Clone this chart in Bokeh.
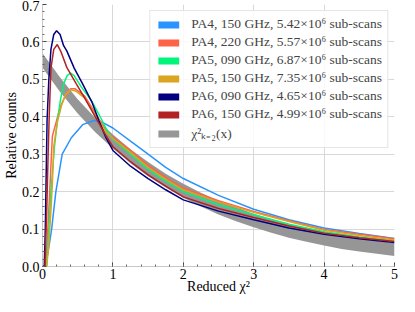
from bokeh.plotting import figure
from bokeh.models import Range1d, FixedTicker, Legend, LegendItem, NumeralTickFormatter
from bokeh.embed import file_html
from bokeh.resources import INLINE

# ---------------- data ----------------
x_ticks = [0, 1, 2, 3, 4, 5]
y_ticks = [0.0, 0.1, 0.2, 0.3, 0.4, 0.5, 0.6, 0.7]

labels = [
    "PA4, 150 GHz, 5.42×10⁶ sub-scans",
    "PA4, 220 GHz, 5.57×10⁶ sub-scans",
    "PA5, 090 GHz, 6.87×10⁶ sub-scans",
    "PA5, 150 GHz, 7.35×10⁶ sub-scans",
    "PA6, 090 GHz, 4.65×10⁶ sub-scans",
    "PA6, 150 GHz, 4.99×10⁶ sub-scans",
]
band_label = "χ²ₖ₌₂(x)"

tail_x = [1.25, 1.5, 1.75, 2.0, 2.5, 3.0, 3.5, 4.0, 4.5, 5.0]

pa4_150_x = [0, 0.04, 0.08, 0.13, 0.19, 0.28, 0.41, 0.57, 0.73, 0.85, 1.0] + tail_x
pa4_150_y = [0, 0, 0.04, 0.10, 0.20, 0.30, 0.344, 0.379, 0.39, 0.385, 0.37,
             0.335, 0.30, 0.265, 0.235, 0.19, 0.153, 0.125, 0.103, 0.088, 0.075]

pa4_220_x = [0, 0.05, 0.07, 0.10, 0.14, 0.19, 0.25, 0.32, 0.40, 0.46, 0.60, 0.75, 0.90, 1.0] + tail_x
pa4_220_y = [0, 0, 0.08, 0.19, 0.348, 0.383, 0.425, 0.455, 0.475, 0.475, 0.455, 0.41, 0.365, 0.345,
             0.31, 0.27, 0.238, 0.209, 0.176, 0.147, 0.122, 0.099, 0.086, 0.074]

pa5_090_x = [0, 0.06, 0.09, 0.12, 0.17, 0.21, 0.255, 0.30, 0.35, 0.40, 0.45, 0.55, 0.69, 0.82, 0.91, 1.0] + tail_x
pa5_090_y = [0, 0, 0.10, 0.20, 0.32, 0.387, 0.445, 0.488, 0.51, 0.517, 0.51, 0.48, 0.445, 0.40, 0.366, 0.34,
             0.30, 0.26, 0.228, 0.20, 0.165, 0.138, 0.113, 0.093, 0.079, 0.068]

pa5_150_x = [0, 0.06, 0.09, 0.12, 0.14, 0.16, 0.21, 0.27, 0.33, 0.40, 0.48, 0.60, 0.75, 0.90, 1.0] + tail_x
pa5_150_y = [0, 0, 0.06, 0.15, 0.22, 0.32, 0.385, 0.43, 0.46, 0.472, 0.468, 0.45, 0.405, 0.36, 0.342,
             0.305, 0.265, 0.233, 0.205, 0.172, 0.145, 0.12, 0.097, 0.083, 0.071]

pa6_090_x = [0, 0.025, 0.04, 0.05, 0.065, 0.09, 0.12, 0.16, 0.20, 0.25, 0.30, 0.345, 0.45, 0.57, 0.70, 0.80, 0.90, 1.0] + tail_x
pa6_090_y = [0, 0, 0.10, 0.22, 0.39, 0.50, 0.58, 0.62, 0.63, 0.62, 0.59, 0.576, 0.53, 0.488, 0.44, 0.39, 0.345, 0.31,
             0.268, 0.235, 0.205, 0.178, 0.148, 0.125, 0.103, 0.086, 0.074, 0.064]

pa6_150_x = [0, 0.035, 0.06, 0.08, 0.095, 0.12, 0.16, 0.21, 0.26, 0.345, 0.48, 0.60, 0.75, 0.90, 1.0] + tail_x
pa6_150_y = [0, 0, 0.15, 0.30, 0.40, 0.53, 0.58, 0.593, 0.575, 0.532, 0.488, 0.45, 0.40, 0.35, 0.32,
             0.28, 0.245, 0.215, 0.186, 0.155, 0.131, 0.108, 0.089, 0.077, 0.067]

band_x = [0, 0.25, 0.5, 0.75, 1.0, 1.25, 1.5, 1.75, 2.0, 2.25, 2.5, 2.75, 3.0, 3.25, 3.5, 3.75,
          4.0, 4.25, 4.5, 4.75, 5.0]
band_upper = [0.570, 0.505, 0.447, 0.397, 0.353, 0.313, 0.279, 0.248, 0.221, 0.197, 0.176,
              0.158, 0.141, 0.127, 0.114, 0.103, 0.093, 0.084, 0.076, 0.069, 0.063]
band_lower = [0.531, 0.466, 0.409, 0.359, 0.315, 0.276, 0.241, 0.211, 0.184, 0.160, 0.139,
              0.121, 0.105, 0.090, 0.077, 0.066, 0.056, 0.047, 0.040, 0.034, 0.028]

series_x = [pa4_150_x, pa4_220_x, pa5_090_x, pa5_150_x, pa6_090_x, pa6_150_x]
series_y = [pa4_150_y, pa4_220_y, pa5_090_y, pa5_150_y, pa6_090_y, pa6_150_y]
colors = ["#2A93FF", "#FF6347", "#00F57A", "#DAA520", "#000080", "#B22222"]
BAND_COLOR = "#969696"

FONT = "Liberation Serif"

# ---------------- figure ----------------
p = figure(width=399, height=296, x_range=Range1d(0, 5), y_range=Range1d(0, 0.7),
           output_backend="svg", toolbar_location=None,
           min_border_left=10, min_border_right=5, min_border_top=4, min_border_bottom=5)
p.outline_line_color = None
p.background_fill_color = "white"
p.border_fill_color = "white"

# chi^2 band
band = p.varea(x=band_x, y1=band_lower, y2=band_upper, fill_color=BAND_COLOR, fill_alpha=1.0)

# data curves (histograms)
for xs, ys, c in zip(series_x, series_y, colors):
    p.line(xs, ys, line_color=c, line_width=1.5)

# legend proxies: zero-height areas on the same data, so the legend shows filled patches
items = []
for lab, xs, ys, c in zip(labels, series_x, series_y, colors):
    r = p.varea(x=xs, y1=ys, y2=ys, fill_color=c, fill_alpha=1.0)
    items.append(LegendItem(label=lab, renderers=[r]))
items.append(LegendItem(label=band_label, renderers=[band]))

legend = Legend(items=items, location="top_right", margin=6, padding=5, spacing=2,
                label_height=14, glyph_height=9, glyph_width=26, label_standoff=10,
                label_text_font=FONT, label_text_font_size="13.5px",
                border_line_color="#cccccc", border_line_width=1,
                background_fill_color="white", background_fill_alpha=0.85)
p.add_layout(legend, "center")

# axes
for ax in (p.xaxis[0], p.yaxis[0]):
    ax.axis_line_color = "#c8c8c8"
    ax.major_tick_in = 4
    ax.major_tick_out = 0
    ax.minor_tick_in = 2
    ax.minor_tick_out = 0
    ax.major_tick_line_color = "#444444"
    ax.minor_tick_line_color = "#666666"
    ax.major_label_text_font = FONT
    ax.major_label_text_font_size = "14px"
    ax.major_label_text_color = "black"
    ax.axis_label_text_font = FONT
    ax.axis_label_text_font_size = "14px"
    ax.axis_label_text_font_style = "normal"
    ax.axis_label_text_color = "black"
    ax.major_label_standoff = 3
    ax.axis_label_standoff = 0

p.xaxis.major_label_standoff = 2
p.xaxis.axis_label_standoff = -3

p.xaxis.ticker = FixedTicker(ticks=x_ticks, minor_ticks=[i * 0.2 for i in range(26)])
p.yaxis.ticker = FixedTicker(ticks=y_ticks, minor_ticks=[i * 0.02 for i in range(36)])
p.yaxis.formatter = NumeralTickFormatter(format="0.0")
p.xaxis.axis_label = "Reduced χ²"
p.yaxis.axis_label = "Relative counts"

p.xgrid.grid_line_color = "#d8d8d8"
p.ygrid.grid_line_color = "#d8d8d8"

open("out.html", "w").write(file_html(p, INLINE))
